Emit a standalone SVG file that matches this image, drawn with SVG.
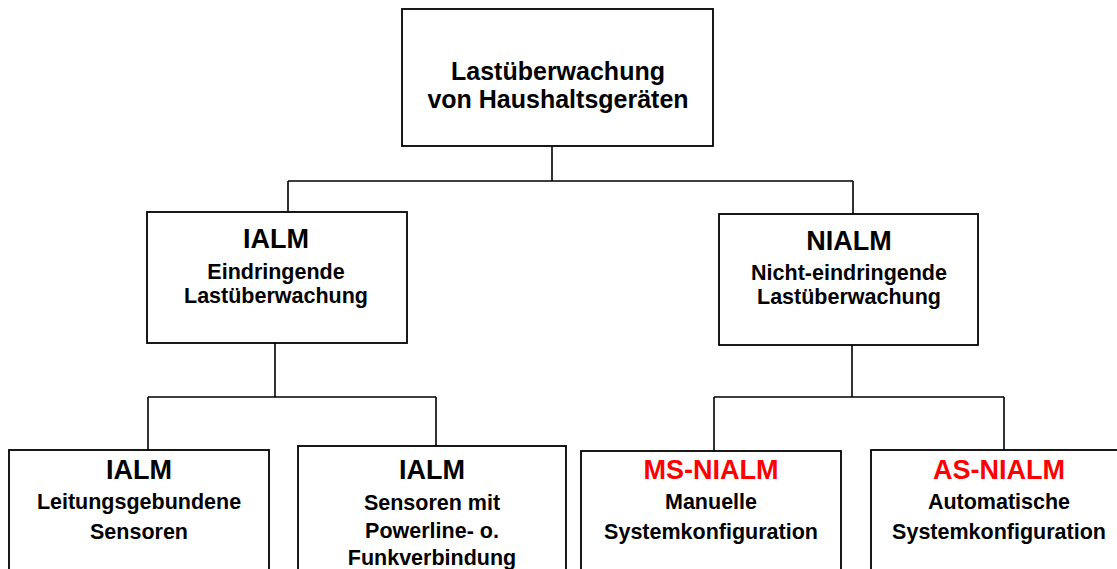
<svg xmlns="http://www.w3.org/2000/svg" width="1117" height="569" viewBox="0 0 1117 569">
<style>
.box{fill:#fff;stroke:#000;stroke-width:1.8}
.con{fill:none;stroke:#000;stroke-width:1.6}
text{font-family:"Liberation Sans",Arial,sans-serif;font-weight:bold;text-anchor:middle;fill:#000}
.t0{font-size:25px}
.h{font-size:27px}
.s{font-size:21.5px}
.red{fill:#ff0000}
</style>
<rect width="1117" height="569" fill="#fff"/>
<g id="connectors">
<path class="con" d="M552,146V181M288,181H853M288,181V212M853,181V214"/>
<path class="con" d="M275,343V397M148,397H436M148,397V450M436,397V446"/>
<path class="con" d="M852,345V397M714,397H1004M714,397V451M1004,397V450"/>
</g>
<g id="root">
<rect class="box" x="402" y="9" width="311" height="137"/>
<text class="t0" x="558" y="80">Lastüberwachung</text>
<text class="t0" x="558" y="108">von Haushaltsgeräten</text>
</g>
<g id="ialm">
<rect class="box" x="147" y="212" width="260" height="131"/>
<text class="h" x="276" y="248">IALM</text>
<text class="s" x="276" y="279">Eindringende</text>
<text class="s" x="276" y="303">Lastüberwachung</text>
</g>
<g id="nialm">
<rect class="box" x="719" y="214" width="259" height="131"/>
<text class="h" x="849" y="250">NIALM</text>
<text class="s" x="849" y="280">Nicht-eindringende</text>
<text class="s" x="849" y="304">Lastüberwachung</text>
</g>
<g id="ialm-wired">
<rect class="box" x="9" y="450" width="260" height="140"/>
<text class="h" x="139" y="479">IALM</text>
<text class="s" x="139" y="509">Leitungsgebundene</text>
<text class="s" x="139" y="539">Sensoren</text>
</g>
<g id="ialm-wireless">
<rect class="box" x="298" y="446" width="268" height="140"/>
<text class="h" x="432" y="479">IALM</text>
<text class="s" x="432" y="510">Sensoren mit</text>
<text class="s" x="432" y="538">Powerline- o.</text>
<text class="s" x="432" y="565">Funkverbindung</text>
</g>
<g id="ms-nialm">
<rect class="box" x="581" y="451" width="260" height="140"/>
<text class="h red" x="711" y="479">MS-NIALM</text>
<text class="s" x="711" y="509">Manuelle</text>
<text class="s" x="711" y="539">Systemkonfiguration</text>
</g>
<g id="as-nialm">
<rect class="box" x="871" y="450" width="260" height="140"/>
<text class="h red" x="999" y="479">AS-NIALM</text>
<text class="s" x="999" y="509">Automatische</text>
<text class="s" x="999" y="539">Systemkonfiguration</text>
</g>
</svg>
